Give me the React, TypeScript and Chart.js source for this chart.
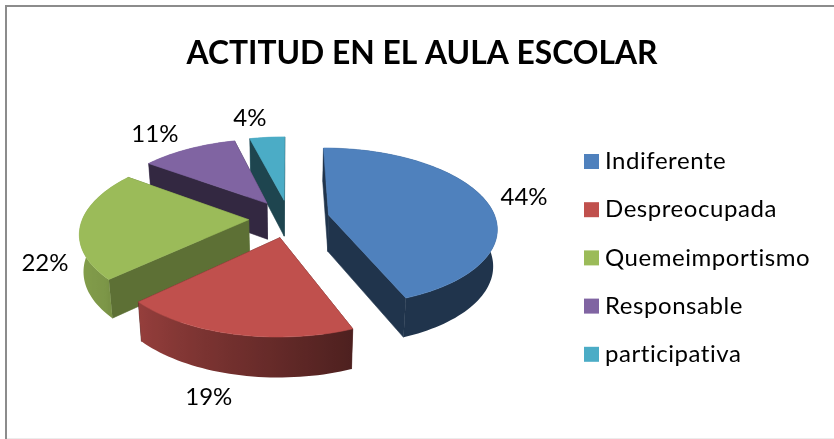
import React, { useEffect, useRef } from "react";
import { Chart, registerables } from "chart.js";

Chart.register(...registerables);

const titleText = "ACTITUD EN EL AULA ESCOLAR";
const categories = ["Indiferente", "Despreocupada", "Quemeimportismo", "Responsable", "participativa"];
const percentages = [44, 19, 22, 11, 4];
const sliceColors = ["#4F81BD", "#C0504D", "#9BBB59", "#8064A2", "#4BACC6"];

// Style of the pseudo 3D projection and its annotations
const radialShade = [0.4, 0.4, 0.6, 0.4, 0.4];
const labelRadius = [1.25, 1.5, 1.225, 1.37, 1.372];
const labelTurnDeg = [0, -0.8, -21.4, -3.0, -3.8];
const FONT = "Lato";
const CX = 289, CY = 218.5, SX_RIGHT = 167, SX_LEFT = 166, SY = 78, PERSP = 0.15, EXPLODE = 0.243, DEPTH = 36.5;

const project = (X: number, Y: number) => {
  const w = 1 - PERSP * Y;
  return { x: CX + ((X < 0 ? SX_LEFT : SX_RIGHT) * X) / w, y: CY + (SY * Y) / w };
};
const lower = (X: number, Y: number) => {
  const p = project(X, Y);
  return { x: CX + (p.x - CX) * 0.98, y: p.y + DEPTH / (1 - 0.08 * Y) };
};
const shadeColor = (hex: string, f: number) => {
  const n = parseInt(hex.slice(1), 16);
  const r = Math.round(((n >> 16) & 255) * f), g = Math.round(((n >> 8) & 255) * f), b = Math.round((n & 255) * f);
  return `rgb(${r},${g},${b})`;
};
const outerShade = (deg: number) => {
  if (deg <= 158) return 0.4;
  if (deg <= 227) return 0.4 + ((deg - 158) / 69) * 0.38;
  return 0.8 + Math.min(deg - 227, 40) * 0.002;
};

const pie3d = {
  id: "pie3d",
  beforeDraw(chart: any) {
    const { ctx, width, height } = chart;
    ctx.save();
    ctx.fillStyle = "#fff";
    ctx.fillRect(0, 0, width, height);
    ctx.fillStyle = "#ececec";
    ctx.fillRect(7, height - 1, width - 7, 1);
    ctx.fillStyle = "#8c8c8c";
    ctx.fillRect(5, 5, width - 5, 2);
    ctx.fillRect(5, 5, 2, height - 5);
    ctx.restore();
  },
  beforeDatasetDraw(chart: any) {
    const { ctx } = chart;
    const arcs = chart.getDatasetMeta(0).data as any[];
    const items = arcs.map((el, i) => {
      const { startAngle, endAngle } = el.getProps(["startAngle", "endAngle"], true);
      const a0 = startAngle + Math.PI / 2, a1 = endAngle + Math.PI / 2;
      const mid = (a0 + a1) / 2;
      const ax = EXPLODE * Math.sin(mid), ay = -EXPLODE * Math.cos(mid);
      const pts: { X: number; Y: number; a: number }[] = [];
      const n = Math.max(4, Math.ceil((a1 - a0) / 0.03));
      for (let k = 0; k <= n; k++) {
        const a = a0 + ((a1 - a0) * k) / n;
        pts.push({ X: ax + Math.sin(a), Y: ay - Math.cos(a), a });
      }
      return { i, mid, ax, ay, pts };
    });
    items.sort((p, q) => p.ay - q.ay);
    ctx.save();
    ctx.lineWidth = 0.6;
    for (const s of items) {
      const color = sliceColors[s.i];
      const apex = { X: s.ax, Y: s.ay };
      const first = s.pts[0], last = s.pts[s.pts.length - 1];
      const radial = shadeColor(color, radialShade[s.i]);
      const drawRadial = (A: any, B: any) => {
        const a = project(A.X, A.Y), b = project(B.X, B.Y), c = lower(B.X, B.Y), d = lower(A.X, A.Y);
        ctx.beginPath();
        ctx.moveTo(a.x, a.y);
        ctx.lineTo(b.x, b.y);
        ctx.lineTo(c.x, c.y);
        ctx.lineTo(d.x, d.y);
        ctx.closePath();
        ctx.fillStyle = radial;
        ctx.strokeStyle = radial;
        ctx.fill();
        ctx.stroke();
      };
      const drawOuter = () => {
        const tops = s.pts.map((p) => project(p.X, p.Y));
        const bots = s.pts.map((p) => lower(p.X, p.Y));
        const xs = tops.map((p) => p.x).concat(bots.map((p) => p.x));
        const x0 = Math.min(...xs), x1 = Math.max(...xs);
        const grad = ctx.createLinearGradient(x0, 0, x1, 0);
        // colour stops follow the front half of the arc, where x runs one way only
        const stops = s.pts
          .map((p, k) => ({ t: (tops[k].x - x0) / Math.max(1, x1 - x0), deg: (p.a * 180) / Math.PI }))
          .filter((st) => st.deg > 90 && st.deg < 270)
          .sort((u, v) => u.t - v.t);
        if (stops.length === 0) stops.push({ t: 0, deg: (s.mid * 180) / Math.PI });
        for (const st of stops) grad.addColorStop(Math.min(1, Math.max(0, st.t)), shadeColor(color, outerShade(st.deg)));
        ctx.beginPath();
        tops.forEach((p, k) => (k ? ctx.lineTo(p.x, p.y) : ctx.moveTo(p.x, p.y)));
        for (let k = bots.length - 1; k >= 0; k--) ctx.lineTo(bots[k].x, bots[k].y);
        ctx.closePath();
        ctx.fillStyle = grad;
        ctx.fill();
      };
      const arcFront = s.pts.reduce((acc, p) => acc + p.Y, 0) / s.pts.length > apex.Y;
      if (!arcFront) drawOuter();
      if (first.Y > last.Y) {
        drawRadial(last, apex);
        drawRadial(apex, first);
      } else {
        drawRadial(apex, first);
        drawRadial(last, apex);
      }
      if (arcFront) drawOuter();

      ctx.beginPath();
      const p0 = project(apex.X, apex.Y);
      ctx.moveTo(p0.x, p0.y);
      for (const p of s.pts) {
        const q = project(p.X, p.Y);
        ctx.lineTo(q.x, q.y);
      }
      ctx.closePath();
      ctx.fillStyle = color;
      ctx.strokeStyle = color;
      ctx.fill();
      ctx.stroke();
    }
    // percentage labels
    ctx.fillStyle = "#000";
    ctx.font = `24px ${FONT}`;
    ctx.textAlign = "center";
    ctx.textBaseline = "middle";
    for (const s of items) {
      const t = s.mid + (labelTurnDeg[s.i] * Math.PI) / 180;
      const r = labelRadius[s.i];
      const p = project(s.ax + r * Math.sin(t), s.ay - r * Math.cos(t));
      ctx.fillText(`${percentages[s.i]}%`, p.x, p.y);
    }
    // legend
    ctx.font = `24px ${FONT}`;
    ctx.textAlign = "left";
    (ctx as any).letterSpacing = "0.55px";
    categories.forEach((name, i) => {
      const y = 154 + i * 48.2;
      ctx.fillStyle = sliceColors[i];
      ctx.fillRect(584, y, 15, 15);
      ctx.fillStyle = "#000";
      ctx.fillText(name, 605, y + 7.5);
    });
    ctx.restore();
    return false;
  },
};

export default function App() {
  const ref = useRef<HTMLCanvasElement>(null);
  useEffect(() => {
    const chart = new Chart(ref.current!, {
      type: "pie",
      data: {
        labels: categories,
        datasets: [{ data: percentages, backgroundColor: sliceColors, borderWidth: 0 }],
      },
      options: {
        responsive: false,
        animation: false,
        layout: { padding: { left: 10, right: 0, top: 35, bottom: 70 } },
        plugins: {
          legend: { display: false },
          tooltip: { enabled: false },
          title: {
            display: true,
            text: titleText,
            color: "#000",
            font: { family: FONT, size: 31.8, weight: "bold" },
            padding: { top: 0, bottom: 10 },
          },
        },
      },
      plugins: [pie3d],
    } as any);
    return () => chart.destroy();
  }, []);
  return (
    <div style={{ position: "absolute", left: 0, top: 0, width: 834, height: 439 }}>
      <canvas ref={ref} width={834} height={439} style={{ display: "block" }} />
    </div>
  );
}
